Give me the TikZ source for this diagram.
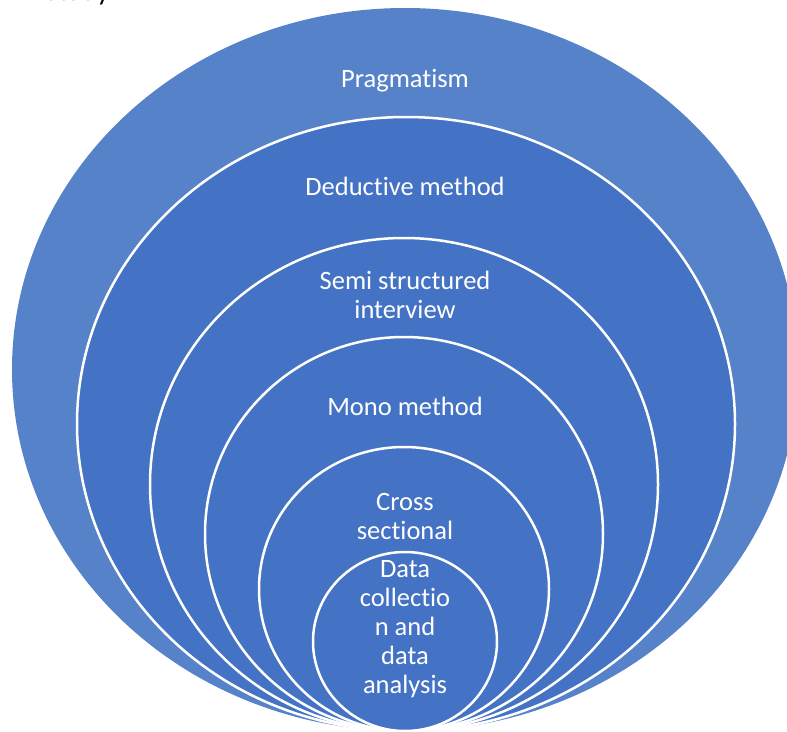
\documentclass[tikz,border=0pt]{standalone}
\usepackage{fontspec}
\setmainfont{Carlito}[Ligatures=NoCommon]
\definecolor{outerblue}{RGB}{86,130,202}
\definecolor{innerblue}{RGB}{68,114,196}
\begin{document}
\begin{tikzpicture}[x=1pt,y=-1pt,
  ring/.style={fill=innerblue,draw=white,line width=2.5pt},
  outerring/.style={fill=outerblue},
  label/.style={text=white,font=\fontsize{26.5}{29}\selectfont,align=center,anchor=base,inner sep=0pt},
  caption/.style={text=black,font=\fontsize{28}{32}\selectfont,anchor=base west,inner sep=0pt}]
  \useasboundingbox (0,0) rectangle (787,731);
  \clip (0,0) rectangle (787,731);

  % caption line above the figure (only its lower edge shows)
  \node[caption] (cap) at (45,0.8) {Study};

  % nested ellipses, all resting on a common bottom point
  \path[outerring] (405,369.5) ellipse [x radius=393,y radius=361.5];
  \path[ring] (406,424)   ellipse [x radius=329,y radius=307];
  \path[ring] (404,484.5) ellipse [x radius=254,y radius=246.5];
  \path[ring] (404,534)   ellipse [x radius=199,y radius=197];
  \path[ring] (404,589)   ellipse [x radius=145,y radius=142];
  \path[ring] (405,641.5) ellipse [x radius=92,y radius=89.5];

  % labels (multi-line labels are anchored at the baseline of their last line)
  \node[label] (prag)  at (405,87)  {Pragmatism};
  \node[label] (ded)   at (405,195) {Deductive method};
  \node[label] (semi)  at (405,318) {Semi structured\\interview};
  \node[label] (mono)  at (405,415) {Mono method};
  \node[label] (cross) at (405,539) {Cross\\sectional};
  \node[label] (data)  at (405,693) {Data\\collectio\\n and\\data\\analysis};
\end{tikzpicture}
\end{document}
